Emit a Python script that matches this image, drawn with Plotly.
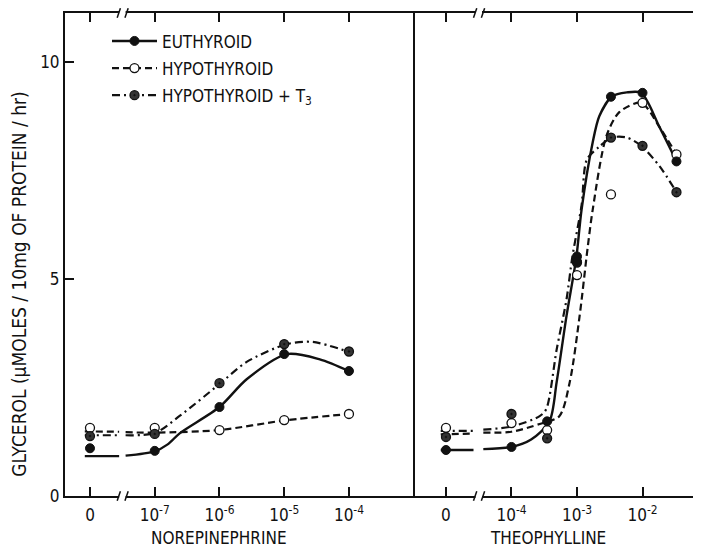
import math
import plotly.graph_objects as go

# ---------------- data ----------------
NE_conc = [0, 1e-7, 1e-6, 1e-5, 1e-4]
NE_eu = [1.10, 1.04, 2.05, 3.27, 2.88]
NE_hypo = [1.57, 1.57, 1.52, 1.75, 1.89]
NE_t3 = [1.38, 1.43, 2.60, 3.50, 3.33]

TH_conc = [0, 1e-4, 3.5e-4, 1e-3, 3.3e-3, 1e-2, 3.3e-2]
TH_eu = [1.06, 1.13, 1.72, 5.52, 9.20, 9.29, 7.71]
TH_hypo = [1.57, 1.68, 1.52, 5.09, 6.95, 9.06, 7.87]
TH_t3 = [1.36, 1.89, 1.33, 5.38, 8.26, 8.07, 7.00]
TH_eu2 = [None, None, None, 5.40, None, None, None]  # second euthyroid reading at 10^-3

# smooth fitted curves (log10 concentration, value), None = axis break
NE_eu_cx = [-8.08, -7.55, None, -7.45, -7.0, -6.8, -6.61, -6.0, -5.58, -4.96, -4.45, -4.0]
NE_eu_cy = [0.92, 0.92, None, 0.93, 1.03, 1.19, 1.45, 2.05, 2.69, 3.27, 3.15, 2.88]
NE_hypo_cx = [-8.08, -7.55, None, -7.45, -7.0, -6.0, -5.0, -4.0]
NE_hypo_cy = [1.49, 1.48, None, 1.47, 1.46, 1.52, 1.74, 1.89]
NE_t3_cx = [-8.08, -7.55, None, -7.45, -7.0, -6.61, -6.0, -5.58, -4.96, -4.56, -4.0]
NE_t3_cy = [1.40, 1.40, None, 1.40, 1.45, 1.85, 2.58, 3.09, 3.50, 3.55, 3.32]

TH_eu_cx = [-5.08, -4.58, None, -4.43, -4.0, -3.7, -3.42, -3.31, -3.16, -3.01, -2.93,
            -2.76, -2.66, -2.47, -2.24, -2.02, -1.74, -1.48]
TH_eu_cy = [1.06, 1.06, None, 1.08, 1.13, 1.30, 1.72, 2.63, 4.15, 5.50, 6.60,
            8.15, 8.75, 9.20, 9.30, 9.29, 8.50, 7.71]
TH_hypo_cx = [-5.08, -4.58, None, -4.43, -4.0, -3.57, -3.27, -3.11, -2.96, -2.84, -2.76,
              -2.55, -2.35, -2.02, -1.74, -1.48]
TH_hypo_cy = [1.42, 1.44, None, 1.46, 1.48, 1.66, 1.84, 2.63, 4.15, 5.69, 6.60,
              8.30, 8.85, 9.06, 8.50, 7.87]
TH_t3_cx = [-5.08, -4.58, None, -4.43, -4.0, -3.57, -3.47, -3.31, -3.16, -3.07, -2.93,
            -2.85, -2.66, -2.47, -2.24, -2.02, -1.74, -1.48]
TH_t3_cy = [1.50, 1.50, None, 1.53, 1.60, 1.84, 2.00, 3.38, 4.53, 5.52, 6.70,
            7.75, 8.05, 8.26, 8.26, 8.07, 7.60, 7.00]

NE_ticks = [0, 1e-7, 1e-6, 1e-5, 1e-4]
NE_ticktext = ["0", "10<sup>-7</sup>", "10<sup>-6</sup>", "10<sup>-5</sup>", "10<sup>-4</sup>"]
TH_ticks = [0, 1e-4, 1e-3, 1e-2]
TH_ticktext = ["0", "10<sup>-4</sup>", "10<sup>-3</sup>", "10<sup>-2</sup>"]

NE_ZERO = -8   # axis position used for zero concentration
TH_ZERO = -5


def pos(values, zero):
    return [zero if v == 0 else math.log10(v) for v in values]


FONT = "Liberation Sans Narrow, DejaVu Sans Condensed, DejaVu Sans, sans-serif"
BLACK = "#111111"
T3FILL = "#333333"

fig = go.Figure()

styles = {
    "eu": dict(dash="solid", width=2.4),
    "hypo": dict(dash="7px,4px", width=2.2),
    "t3": dict(dash="8px,4px,2px,4px", width=2.2),
}
markers = {
    "eu": dict(symbol="circle", size=9, color=BLACK, line=dict(color=BLACK, width=1)),
    "hypo": dict(symbol="circle", size=9, color="white", line=dict(color=BLACK, width=1.3)),
    "t3": dict(symbol="circle-dot", size=9, color=T3FILL, line=dict(color=BLACK, width=1.3)),
}

curves = [
    ("x", "y", NE_eu_cx, NE_eu_cy, "eu"),
    ("x", "y", NE_hypo_cx, NE_hypo_cy, "hypo"),
    ("x", "y", NE_t3_cx, NE_t3_cy, "t3"),
    ("x2", "y2", TH_eu_cx, TH_eu_cy, "eu"),
    ("x2", "y2", TH_hypo_cx, TH_hypo_cy, "hypo"),
    ("x2", "y2", TH_t3_cx, TH_t3_cy, "t3"),
]
for xa, ya, cx, cy, k in curves:
    fig.add_trace(go.Scatter(x=cx, y=cy, mode="lines", xaxis=xa, yaxis=ya,
                             line=dict(color=BLACK, shape="spline", smoothing=0.8, **styles[k]),
                             showlegend=False, hoverinfo="skip", connectgaps=False))

points = [
    ("x", "y", NE_conc, NE_ZERO, NE_hypo, "hypo"),
    ("x", "y", NE_conc, NE_ZERO, NE_t3, "t3"),
    ("x", "y", NE_conc, NE_ZERO, NE_eu, "eu"),
    ("x2", "y2", TH_conc, TH_ZERO, TH_hypo, "hypo"),
    ("x2", "y2", TH_conc, TH_ZERO, TH_t3, "t3"),
    ("x2", "y2", TH_conc, TH_ZERO, TH_eu, "eu"),
    ("x2", "y2", TH_conc, TH_ZERO, TH_eu2, "eu"),
]
for xa, ya, conc, zero, vals, k in points:
    fig.add_trace(go.Scatter(x=pos(conc, zero), y=vals, mode="markers", xaxis=xa, yaxis=ya,
                             marker=markers[k], showlegend=False))

names = {"eu": "EUTHYROID", "hypo": "HYPOTHYROID", "t3": "HYPOTHYROID + T<sub>3</sub>"}
for k in ["eu", "hypo", "t3"]:
    fig.add_trace(go.Scatter(x=[None], y=[None], mode="lines+markers", name=names[k],
                             legendgroup=k, xaxis="x", yaxis="y",
                             line=dict(color=BLACK, **styles[k]), marker=markers[k]))

# page has an 8px body margin: size the figure so it fits the 701x550 window
W, H = 693, 542
ML, MR, MT, MB = 57, 0, 5, 53.5
PW = W - ML - MR
PH = H - MT - MB
split = (407 - ML) / PW

xcommon = dict(showline=True, linecolor=BLACK, linewidth=2, ticks="inside", ticklen=9,
               tickwidth=1.5, tickcolor=BLACK, showgrid=False, zeroline=False,
               tickfont=dict(family=FONT, size=17, color=BLACK), mirror="ticks",
               automargin=False, ticklabelstandoff=3)

fig.update_layout(
    width=W, height=H, margin=dict(l=ML, r=MR, t=MT, b=MB, autoexpand=False),
    paper_bgcolor="white", plot_bgcolor="white",
    font=dict(family=FONT, color=BLACK),
    xaxis=dict(domain=[0, split], range=[-8.386, -2.98], anchor="y",
               tickvals=pos(NE_ticks, NE_ZERO), ticktext=NE_ticktext, **xcommon),
    xaxis2=dict(domain=[split, 1], range=[-5.473, -1.107], anchor="y2",
                tickvals=pos(TH_ticks, TH_ZERO), ticktext=TH_ticktext, **xcommon),
    yaxis=dict(domain=[0, 1], range=[0, 11.13], anchor="x", tickvals=[0, 5, 10],
               ticktext=["0", "5", "10"],
               showline=True, linecolor=BLACK, linewidth=2, ticks="inside", ticklen=9,
               tickwidth=1.5, tickcolor=BLACK, showgrid=False, zeroline=False,
               automargin=False,
               tickfont=dict(family=FONT, size=17, color=BLACK)),
    yaxis2=dict(domain=[0, 1], range=[0, 11.13], anchor="x2",
                matches="y", showline=True, linecolor=BLACK, linewidth=2,
                showticklabels=False, ticks="", showgrid=False, zeroline=False,
                automargin=False),
    legend=dict(x=(99 - ML) / PW, y=1 - (15.4 - MT) / PH, xanchor="left", yanchor="top",
                bgcolor="rgba(0,0,0,0)", font=dict(family=FONT, size=17, color=BLACK),
                itemwidth=45, tracegroupgap=2),
    showlegend=True,
)

# y-axis title
fig.add_annotation(text="GLYCEROL (μMOLES / 10mg OF PROTEIN / hr)", textangle=-90,
                   x=(11 - ML) / PW, xref="paper", y=1 - (277 - MT) / PH, yref="paper",
                   xanchor="center", yanchor="middle", showarrow=False,
                   font=dict(family=FONT, size=19, color=BLACK))
# x-axis titles
fig.add_annotation(text="NOREPINEPHRINE", x=-6.0, xref="x", y=-42 / PH, yref="paper",
                   xanchor="center", yanchor="middle",
                   showarrow=False, font=dict(family=FONT, size=17, color=BLACK))
fig.add_annotation(text="THEOPHYLLINE", x=-3.45, xref="x2", y=-42 / PH, yref="paper",
                   xanchor="center", yanchor="middle",
                   showarrow=False, font=dict(family=FONT, size=17, color=BLACK))

# axis break marks
for xr, b in [("x", -7.5), ("x2", -4.5)]:
    for yb in [0, 1]:
        fig.add_shape(type="rect", xref=xr, yref="paper", x0=b - 0.05, x1=b + 0.05,
                      y0=yb - 0.006, y1=yb + 0.006, fillcolor="white", line=dict(width=0),
                      layer="above")
        for d in [-0.08, 0.04]:
            fig.add_shape(type="line", xref=xr, yref="paper", x0=b + d, x1=b + d + 0.05,
                          y0=yb - 0.01, y1=yb + 0.01, line=dict(color=BLACK, width=1.5),
                          layer="above")

fig.write_html("out.html")
